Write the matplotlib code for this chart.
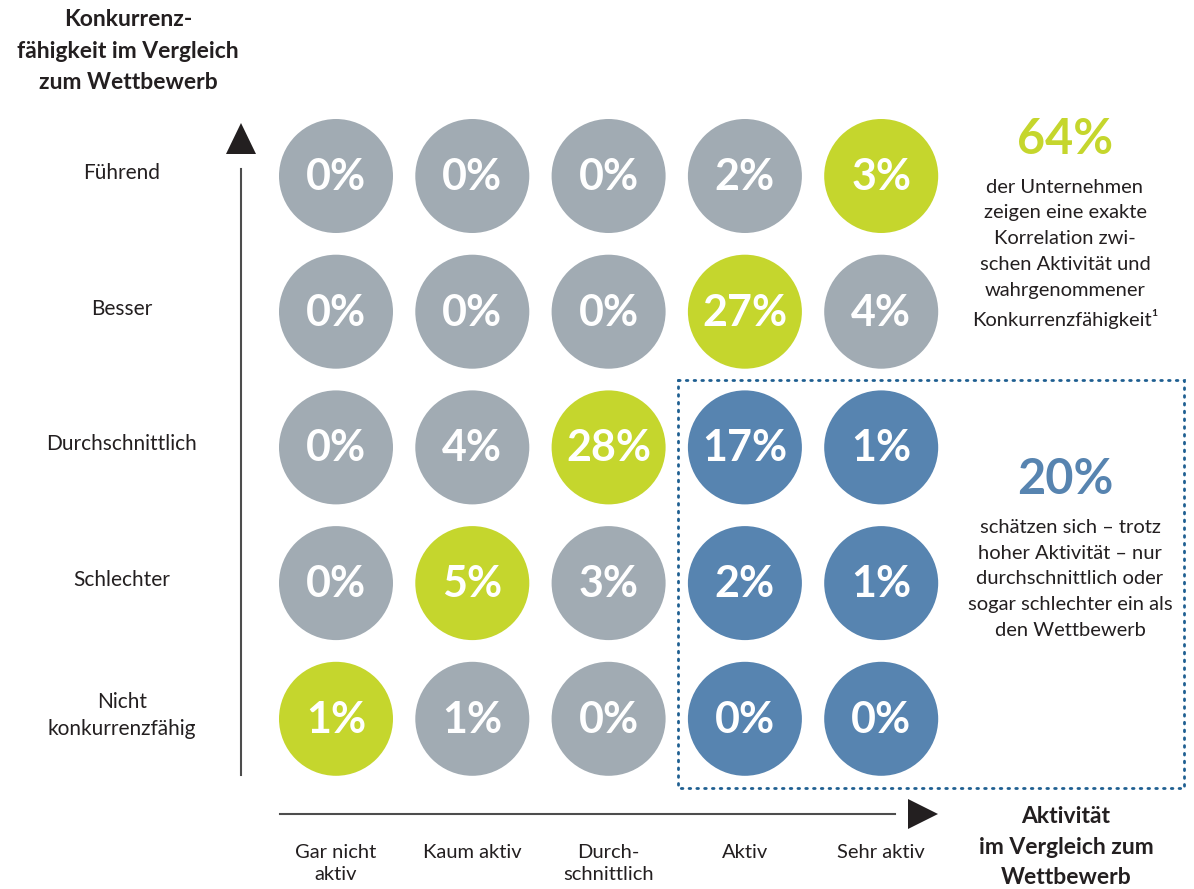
import matplotlib
matplotlib.use("Agg")
import matplotlib.pyplot as plt
from matplotlib.patches import Circle, Rectangle, Polygon

plt.rcParams["font.family"] = ["Lato", "DejaVu Sans"]

# rows top -> bottom, columns left -> right
rows = ["Führend", "Besser", "Durchschnittlich", "Schlechter", "Nicht\nkonkurrenzfähig"]
cols = ["Gar nicht\naktiv", "Kaum aktiv", "Durch-\nschnittlich", "Aktiv", "Sehr aktiv"]
shares = [
    [0, 0, 0, 2, 3],
    [0, 0, 0, 27, 4],
    [0, 4, 28, 17, 1],
    [0, 5, 3, 2, 1],
    [1, 1, 0, 0, 0],
]
# g = grey, k = green (exact match), b = blue (high activity, avg or worse)
groups = [
    "ggggk",
    "gggkg",
    "ggkbb",
    "gkgbb",
    "kggbb",
]
colors = {"g": "#a1abb3", "k": "#c5d62d", "b": "#5784b0"}
match_share = 64
gap_share = 20

W, H = 1194, 889
fig = plt.figure(figsize=(W / 100, H / 100), dpi=100)
ax = fig.add_axes([0, 0, 1, 1])
ax.set_xlim(0, W)
ax.set_ylim(H, 0)
ax.axis("off")

x0, dx = 336, 136.3
y0, dy = 176, 135.7
r = 57

for j, row in enumerate(shares):
    for i, v in enumerate(row):
        cx, cy = x0 + i * dx, y0 + j * dy
        ax.add_patch(Circle((cx, cy), r, color=colors[groups[j][i]], lw=0))
        ax.text(cx, cy + 1, f"{v}%", ha="center", va="center", color="white",
                fontsize=31, fontweight="bold")

for j, lab in enumerate(rows):
    ax.text(122, y0 + j * dy - 3, lab, ha="center", va="center", fontsize=15,
            color="#231f20", linespacing=1.42)

for i, lab in enumerate(cols):
    ax.text(x0 + i * dx, 844, lab, ha="center", va="top", fontsize=14.5,
            color="#231f20", linespacing=1.36)

# axes arrows
ax.plot([241, 241], [169, 775], color="#4d4d4d", lw=1.5)
ax.add_patch(Polygon([[226, 154], [256, 154], [241, 123]], color="#231f20", lw=0))
ax.plot([280, 895], [814, 814], color="#4d4d4d", lw=1.5)
ax.add_patch(Polygon([[908, 799], [908, 829], [938, 814]], color="#231f20", lw=0))

ax.text(128, 51, "Konkurrenz-\nfähigkeit im Vergleich\nzum Wettbewerb", ha="center",
        va="center", fontsize=16.5, fontweight="bold", color="#231f20", linespacing=1.62)
ax.text(1066, 847, "Aktivität\nim Vergleich zum\nWettbewerb", ha="center",
        va="center", fontsize=16.5, fontweight="bold", color="#231f20", linespacing=1.55)

# highlighted region
ax.add_patch(Rectangle((678, 380), 506, 408, fill=False, edgecolor="#1f5f91",
                       lw=2, linestyle=(0, (0.6, 2.2)), capstyle="round"))

ax.text(1065, 140, f"{match_share}%", ha="center", va="center", fontsize=35,
        fontweight="bold", color="#c5d62d")
ax.text(1065, 254, "der Unternehmen\nzeigen eine exakte\nKorrelation zwi-\n"
        "schen Aktivität und\nwahrgenommener\nKonkurrenzfähigkeit¹",
        ha="center", va="center", fontsize=14.5, color="#231f20", linespacing=1.63)

ax.text(1065, 480, f"{gap_share}%", ha="center", va="center", fontsize=35,
        fontweight="bold", color="#5784b0")
ax.text(1070, 579, "schätzen sich – trotz\nhoher Aktivität – nur\n"
        "durchschnittlich oder\nsogar schlechter ein als\nden Wettbewerb",
        ha="center", va="center", fontsize=14.5, color="#231f20", linespacing=1.63)

fig.savefig("out.png", dpi=100)
